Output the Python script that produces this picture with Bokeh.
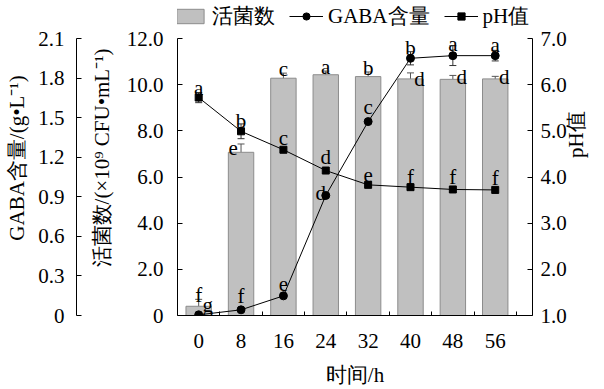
import math
from bokeh.plotting import figure
from bokeh.models import (Range1d, LinearAxis, FixedTicker, ColumnDataSource, Whisker,
                          TeeHead, Legend, LegendItem)
from bokeh.embed import file_html
from bokeh.resources import INLINE
from bokeh.core.properties import value

# ---------------- data ----------------
hours = ["0", "8", "16", "24", "32", "40", "48", "56"]
viable = [0.40, 7.07, 10.28, 10.43, 10.35, 10.25, 10.23, 10.25]
viable_err = [0.30, 0.36, 0.22, 0.16, 0.20, 0.26, 0.17, 0.11]
viable_sig = ["f", "e", "c", "a", "b", "d", "d", "d"]
gaba = [0.005, 0.043, 0.149, 0.91, 1.47, 1.95, 1.97, 1.97]
gaba_err = [0.01, 0.055, 0.055, 0.053, 0.085, 0.05, 0.075, 0.04]
gaba_sig = ["g", "f", "e", "d", "c", "b", "a", "a"]
ph = [5.72, 4.99, 4.59, 4.14, 3.83, 3.78, 3.73, 3.72]
ph_err = [0.11, 0.16, 0.16, 0.24, 0.16, 0.15, 0.16, 0.13]
ph_sig = ["a", "b", "c", "d", "e", "f", "f", "f"]
viable_ticks = [0, 2, 4, 6, 8, 10, 12]
gaba_ticks = [0, 0.3, 0.6, 0.9, 1.2, 1.5, 1.8, 2.1]
ph_ticks = [1, 2, 3, 4, 5, 6, 7]

# label pixel offsets (layout only)
viable_dx = [0, -8, 0, 0, 0, 9, 9, 9]
viable_dy = [-4, 4, -4, -4, -4, 6, 2, 1]
gaba_dx = [9, 0, 0, -5, 0, 0, 0, 0]
gaba_dy = [-9, -7, -5, 5, -3, -4, -2, -5]
ph_dx = [0, 0, 0, 0, 0, 0, 0, 0]
ph_dy = [-5, -3, -4, -2, -2, -3, -5, -6]

FONT = "Liberation Serif"
FS = "21px"

# frame spans the whole height above the x axis (legend lives inside it);
# the axes themselves are bounded to the data ranges
FRAME_H = 315.0
AXIS_H = 277.0
EXT = FRAME_H / AXIS_H

xs = list(range(len(hours)))


def ext_range(lo, hi):
    return Range1d(lo, lo + (hi - lo) * EXT)


p = figure(width=604, height=389, x_range=Range1d(-0.5, 7.88),
           y_range=ext_range(viable_ticks[0], viable_ticks[-1]),
           output_backend="svg", toolbar_location=None,
           min_border_left=177, min_border_right=72, min_border_top=0, min_border_bottom=74)
p.extra_y_ranges = {"gaba": ext_range(gaba_ticks[0], gaba_ticks[-1]),
                    "ph": ext_range(ph_ticks[0], ph_ticks[-1])}
p.xgrid.visible = False
p.ygrid.visible = False
p.outline_line_color = None


def style_axis(ax):
    ax.axis_line_color = "black"
    ax.axis_line_width = 1
    ax.major_tick_line_color = "black"
    ax.minor_tick_line_color = "black"
    ax.major_label_text_font = FONT
    ax.major_label_text_font_size = FS
    ax.major_label_text_color = "black"
    ax.axis_label_text_font = FONT
    ax.axis_label_text_font_size = FS
    ax.axis_label_text_font_style = "normal"
    ax.axis_label_text_color = "black"


# bottom axis
xa = p.xaxis[0]
xa.ticker = FixedTicker(ticks=xs, minor_ticks=[i + 0.5 for i in xs])
xa.major_label_overrides = {i: h for i, h in zip(xs, hours)}
xa.major_tick_in = 0
xa.major_tick_out = 0
xa.minor_tick_in = 4
xa.minor_tick_out = 0
xa.major_label_standoff = 18
xa.axis_label = "时间/h"
xa.axis_label_standoff = 12
style_axis(xa)

# inner left axis (viable count)
ya = p.yaxis[0]
ya.ticker = FixedTicker(ticks=viable_ticks, minor_ticks=[])
ya.bounds = (viable_ticks[0], viable_ticks[-1])
ya.major_label_overrides = {t: ("0" if t == 0 else f"{t:.1f}") for t in viable_ticks}
ya.major_tick_in = 5
ya.major_tick_out = 0
ya.minor_tick_in = 0
ya.minor_tick_out = 0
ya.major_label_standoff = 14
ya.axis_label = "活菌数/(×10⁹ CFU•mL⁻¹)"
ya.axis_label_standoff = 10
style_axis(ya)

# invisible spacer between the two left axes
spacer = LinearAxis(y_range_name="gaba", ticker=FixedTicker(ticks=[1.0], minor_ticks=[]),
                    bounds=(gaba_ticks[0], gaba_ticks[-1]),
                    axis_line_color=None, major_tick_line_color=None,
                    major_tick_out=10, major_tick_in=0, minor_tick_out=0, minor_tick_in=0,
                    major_label_standoff=0, major_label_text_font_size="1px",
                    major_label_text_color=None, major_label_overrides={1.0: ""})
p.add_layout(spacer, "left")

# outer left axis (GABA)
ga = LinearAxis(y_range_name="gaba", ticker=FixedTicker(ticks=gaba_ticks, minor_ticks=[]),
                bounds=(gaba_ticks[0], gaba_ticks[-1]))
ga.major_label_overrides = {t: ("0" if t == 0 else f"{t:.1f}") for t in gaba_ticks}
ga.major_tick_in = 5
ga.major_tick_out = 0
ga.minor_tick_in = 0
ga.minor_tick_out = 0
ga.major_label_standoff = 12
ga.axis_label = "GABA含量/(g•L⁻¹)"
ga.axis_label_standoff = 6
style_axis(ga)
p.add_layout(ga, "left")

# right axis (pH)
pa = LinearAxis(y_range_name="ph", ticker=FixedTicker(ticks=ph_ticks, minor_ticks=[]),
                bounds=(ph_ticks[0], ph_ticks[-1]))
pa.major_label_overrides = {t: f"{t:.1f}" for t in ph_ticks}
pa.major_tick_in = 5
pa.major_tick_out = 0
pa.minor_tick_in = 0
pa.minor_tick_out = 0
pa.major_label_standoff = 8
pa.axis_label = "pH值"
pa.axis_label_standoff = 6
style_axis(pa)
if "axis_label_orientation" in pa.properties():
    pa.axis_label_orientation = math.pi / 2
    pa.axis_label_text_baseline = "top"
p.add_layout(pa, "right")

# ---------------- glyphs ----------------
bars = p.vbar(x=xs, top=viable, width=0.6, fill_color="#c0c0c0", line_color="#8c8c8c", line_width=1)

vsrc = ColumnDataSource(dict(x=xs, up=[v + e for v, e in zip(viable, viable_err)],
                             lo=[v - e for v, e in zip(viable, viable_err)]))
p.add_layout(Whisker(source=vsrc, base="x", upper="up", lower="lo", line_color="#555555",
                     line_width=1,
                     upper_head=TeeHead(size=7, line_color="#555555", line_width=1),
                     lower_head=TeeHead(size=7, line_color="#555555", line_width=1)))

gline = p.line(xs, gaba, y_range_name="gaba", line_color="black", line_width=1)
gsrc = ColumnDataSource(dict(x=xs, up=[v + e for v, e in zip(gaba, gaba_err)],
                             lo=[v - e for v, e in zip(gaba, gaba_err)]))
p.add_layout(Whisker(source=gsrc, base="x", upper="up", lower="lo", y_range_name="gaba",
                     line_color="#333333", line_width=1,
                     upper_head=TeeHead(size=7, line_color="#333333", line_width=1),
                     lower_head=TeeHead(size=7, line_color="#333333", line_width=1)))
gpts = p.scatter(xs, gaba, y_range_name="gaba", marker="circle", size=8, color="black")

pline = p.line(xs, ph, y_range_name="ph", line_color="black", line_width=1)
psrc = ColumnDataSource(dict(x=xs, up=[v + e for v, e in zip(ph, ph_err)],
                             lo=[v - e for v, e in zip(ph, ph_err)]))
p.add_layout(Whisker(source=psrc, base="x", upper="up", lower="lo", y_range_name="ph",
                     line_color="#333333", line_width=1,
                     upper_head=TeeHead(size=7, line_color="#333333", line_width=1),
                     lower_head=TeeHead(size=7, line_color="#333333", line_width=1)))
ppts = p.scatter(xs, ph, y_range_name="ph", marker="square", size=7, color="black")


def letters(vals, errs, sig, dx, dy, rng=None):
    kw = {}
    if rng:
        kw["y_range_name"] = rng
    p.text(x=xs, y=[v + e for v, e in zip(vals, errs)], text=sig, x_offset=dx, y_offset=dy,
           text_align="center", text_baseline="alphabetic", text_font=value(FONT),
           text_font_size=FS, text_color="black", **kw)


letters(viable, viable_err, viable_sig, viable_dx, viable_dy)
letters(gaba, gaba_err, gaba_sig, gaba_dx, gaba_dy, "gaba")
letters(ph, ph_err, ph_sig, ph_dx, ph_dy, "ph")

legend = Legend(items=[LegendItem(label="活菌数", renderers=[bars]),
                       LegendItem(label="GABA含量", renderers=[gline, gpts]),
                       LegendItem(label="pH值", renderers=[pline, ppts])],
                orientation="horizontal", location=(-4, 285), glyph_width=34, glyph_height=18,
                label_standoff=5, spacing=14, padding=0, margin=0,
                border_line_color=None, background_fill_alpha=0,
                label_text_font=FONT, label_text_font_size=FS, label_text_color="black")
p.add_layout(legend)

open("out.html", "w").write(file_html(p, INLINE))
